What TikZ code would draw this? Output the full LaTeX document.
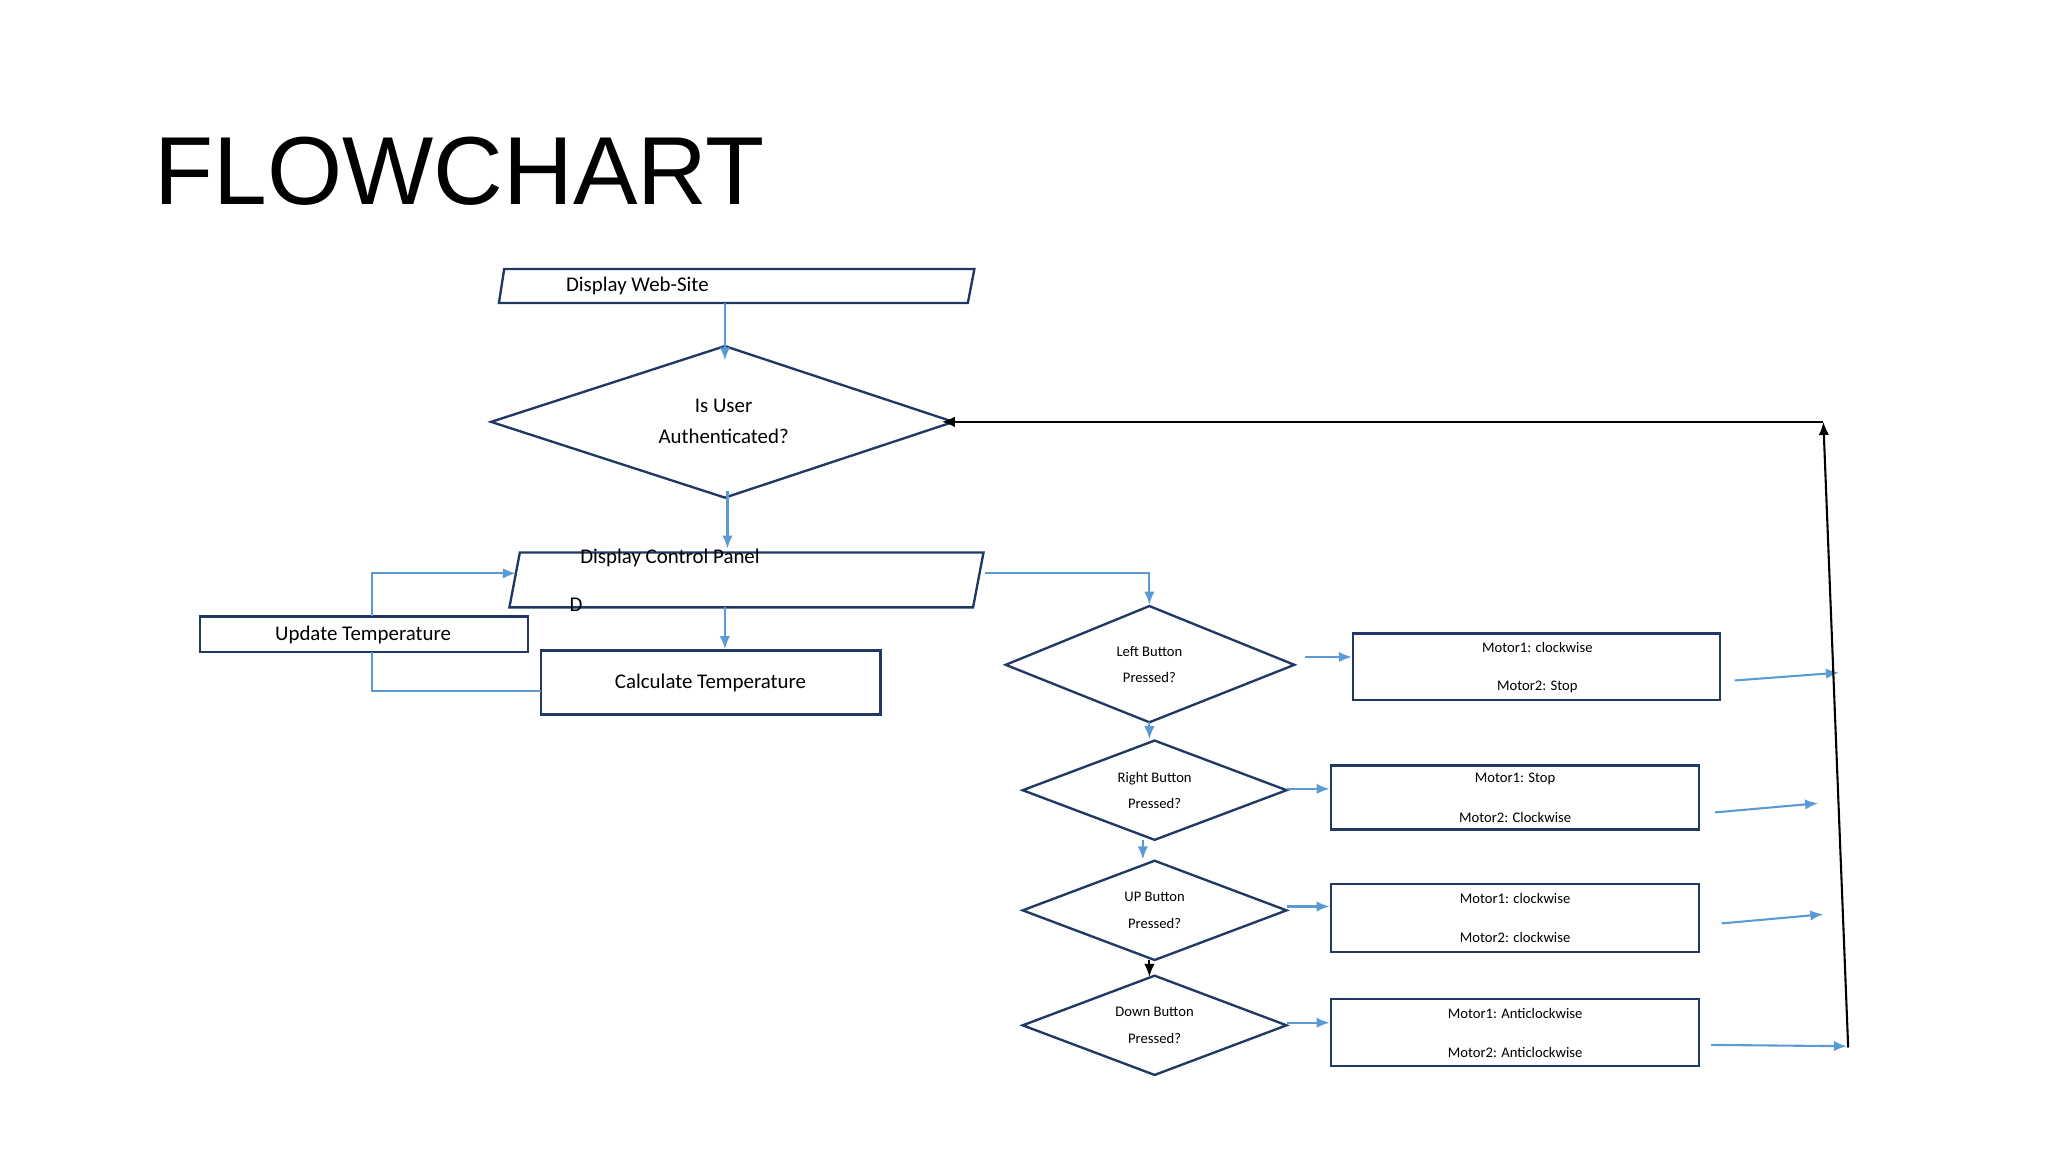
\documentclass[tikz,border=0pt]{standalone}
\usepackage{fontspec}
\setmainfont{Carlito}
\newfontfamily\titlefont{Liberation Sans}
\usetikzlibrary{arrows.meta}
\definecolor{edge}{HTML}{1F3864}
\definecolor{flow}{HTML}{5B9BD5}
\begin{document}
\begin{tikzpicture}[x=0.5pt,y=-0.5pt,
  outl/.style={draw=edge,line width=0.9pt},
  fl/.style={draw=flow,line width=0.8pt,-{Latex[length=5pt,width=4pt]}},
  bl/.style={draw=black,line width=0.8pt,-{Latex[length=5pt,width=4pt]}},
  big/.style={font=\fontsize{8}{9.5}\selectfont,inner sep=0},
  sm/.style={font=\fontsize{5.6}{7}\selectfont,inner sep=0,align=center}]
\useasboundingbox (0,0) rectangle (1568,882);
\node[anchor=west,inner sep=0,font=\titlefont\fontsize{37}{40}\selectfont] (title) at (118,131) {FLOWCHART};
% shapes
\draw[outl] (386,206)--(746,206)--(741,232)--(382,232)--cycle;
\node[big] (web) at (488,219) {Display Web-Site};
\draw[outl] (376,323)--(555,265)--(730,323)--(555,381)--cycle;
\node[big] (auth1) at (554,311) {Is User};
\node[big] (auth2) at (554,334) {Authenticated?};
\draw[outl] (398,423)--(753,423)--(745,465)--(390,465)--cycle;
\node[big] (panel) at (513,427) {Display Control Panel};
\node[big] (d) at (441,463) {D};
\draw[outl] (153,472) rectangle (404,499);
\node[big] (upd) at (278,486) {Update Temperature};
\draw[outl] (414,498) rectangle (674,547);
\node[big] (calc) at (544,523) {Calculate Temperature};
% button diamonds
\draw[outl] (770,509)--(880,464)--(991,509)--(880,553)--cycle;
\node[sm] (lb) at (880,509) {Left Button\\[3pt]Pressed?};
\draw[outl] (783,605)--(884,567)--(985,605)--(884,643)--cycle;
\node[sm] (rb) at (884,605) {Right Button\\[3pt]Pressed?};
\draw[outl] (783,697)--(884,659)--(985,697)--(884,735)--cycle;
\node[sm] (ub) at (884,697) {UP Button\\[3pt]Pressed?};
\draw[outl] (783,785)--(884,747)--(985,785)--(884,823)--cycle;
\node[sm] (db) at (884,785) {Down Button\\[3pt]Pressed?};
% motor boxes
\draw[outl] (1036,485) rectangle (1317,536);
\node[sm] (m1a) at (1177,496) {Motor1: clockwise};
\node[sm] (m1b) at (1177,526) {Motor2: Stop};
\draw[outl] (1019,586) rectangle (1301,635);
\node[sm] (m2a) at (1160,596) {Motor1: Stop};
\node[sm] (m2b) at (1160,626) {Motor2: Clockwise};
\draw[outl] (1019,677) rectangle (1301,729);
\node[sm] (m3a) at (1160,688) {Motor1: clockwise};
\node[sm] (m3b) at (1160,718) {Motor2: clockwise};
\draw[outl] (1019,765) rectangle (1301,816);
\node[sm] (m4a) at (1160,776) {Motor1: Anticlockwise};
\node[sm] (m4b) at (1160,806) {Motor2: Anticlockwise};
% connectors
\draw[fl] (555,232)--(555,276);
\draw[fl] (557,376)--(557,420);
\draw[fl] (555,465)--(555,497);
\draw[fl] (285,472)--(285,439)--(395,439);
\draw[draw=flow,line width=0.8pt] (285,499)--(285,529)--(414,529);
\draw[fl] (754,439)--(880,439)--(880,463);
\draw[fl] (999,503)--(1035,503);
\draw[fl] (1328,521)--(1408,515);
\draw[fl] (880,553)--(880,566);
\draw[fl] (985,604)--(1018,604);
\draw[fl] (1313,622)--(1392,615);
\draw[fl] (875,643)--(875,658);
\draw[fl] (985,694)--(1018,694);
\draw[fl] (1318,707)--(1396,700);
\draw[bl] (880,735)--(880,748);
\draw[fl] (985,783)--(1018,783);
\draw[fl] (1310,800)--(1414,801);
\draw[bl] (1415,802)--(1396,323);
\draw[bl] (1396,323)--(721,323);
\end{tikzpicture}
\end{document}
